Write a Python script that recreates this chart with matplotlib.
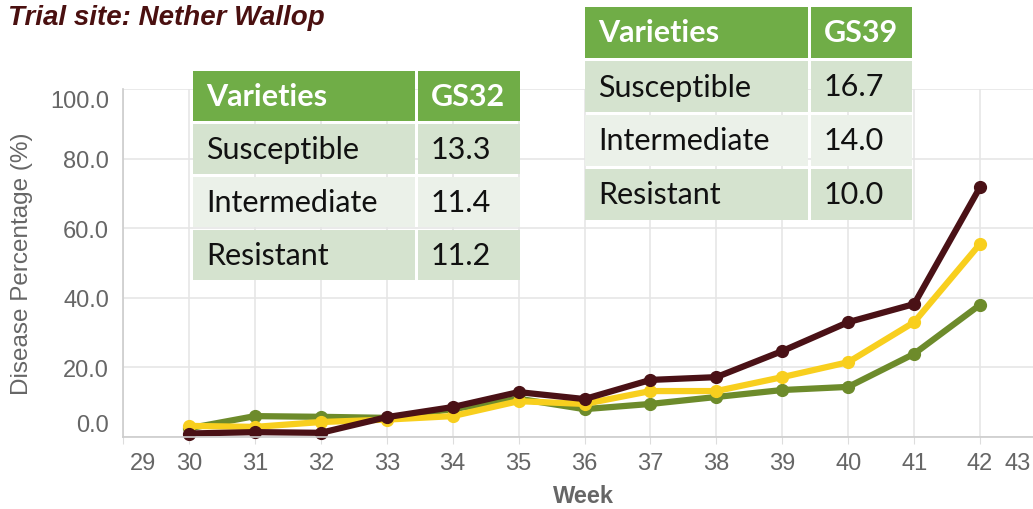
import numpy as np
import matplotlib.pyplot as plt
import matplotlib.transforms as mtransforms
from matplotlib.patches import Rectangle

# Data
weeks = [30, 31, 32, 33, 34, 35, 36, 37, 38, 39, 40, 41, 42]
resistant = [2.5, 6.0, 5.8, 5.5, 8.0, 11.0, 8.0, 9.5, 11.5, 13.5, 14.4, 23.9, 38.0]
intermediate = [3.2, 2.9, 4.3, 5.0, 6.0, 10.3, 9.5, 13.2, 13.2, 17.2, 21.5, 33.0, 55.5]
susceptible = [1.0, 1.4, 1.2, 5.7, 8.6, 12.9, 10.9, 16.4, 17.2, 24.7, 33.0, 38.2, 71.8]

x_ticks = list(range(29, 44))
y_ticks = [0, 20, 40, 60, 80, 100]

table_rows = ['Susceptible', 'Intermediate', 'Resistant']
gs32_values = ['13.3', '11.4', '11.2']
gs39_values = ['16.7', '14.0', '10.0']

W, H = 1033, 510
fig = plt.figure(figsize=(W / 100, H / 100), dpi=100)


def fx(px):
    return px / W


def fy(py):
    return 1 - py / H


# Axes: x from 29 (px 123) to 43 (px ~1046), y from 0 (px 438) to 100 (px 90)
ax = fig.add_axes([fx(123), fy(438), fx(1046) - fx(123), fy(90) - fy(438)])
ax.set_xlim(29, 43)
ax.set_ylim(0, 100)

grid_col = '#e6e6e6'
ax.set_xticks(x_ticks)
ax.set_yticks(y_ticks)
ax.grid(True, color=grid_col, linewidth=1.2)
ax.set_axisbelow(True)
for s in ['top', 'right']:
    ax.spines[s].set_visible(False)
ax.spines['left'].set_color('#cccccc')
ax.spines['bottom'].set_color('#cccccc')
ax.spines['left'].set_linewidth(1.2)
ax.spines['bottom'].set_linewidth(1.2)
ax.tick_params(axis='y', length=0, pad=10, labelsize=17, labelcolor='#666666')
ax.tick_params(axis='x', length=5, color='#dddddd', pad=6, labelsize=17,
               labelcolor='#666666')
ax.set_yticklabels(['%.1f' % v for v in y_ticks], fontfamily='Liberation Sans')
ax.set_xticklabels([str(v) for v in x_ticks], fontfamily='Liberation Sans')


def shift(label, dx_px, dy_px):
    label.set_transform(label.get_transform() +
                        mtransforms.ScaledTranslation(dx_px / 100, dy_px / 100,
                                                      fig.dpi_scale_trans))


# push edge labels inside, like the original
xl = ax.get_xticklabels()
shift(xl[0], 20, 0)
shift(xl[-1], -28, 0)
yl = ax.get_yticklabels()
shift(yl[0], 0, 14)
shift(yl[-1], 0, -10)

ax.set_xlabel('Week', fontsize=17, fontweight='bold', color='#666666',
              fontfamily='Liberation Sans')
ax.xaxis.set_label_coords((583 - 123) / (1046 - 123), -(497 - 438) / 348,)
ax.xaxis.label.set_va('center')
ax.set_ylabel('Disease Percentage (%)', fontsize=17.5, color='#666666',
              fontfamily='Liberation Sans')
ax.yaxis.set_label_coords(-(123 - 22) / (1046 - 123), (438 - 264) / 348)
ax.yaxis.label.set_va('center')

series = [
    (resistant, '#6d8b2b'),
    (intermediate, '#f8cf1e'),
    (susceptible, '#4a1116'),
]
for vals, col in series:
    ax.plot(weeks, vals, color=col, linewidth=4.5, marker='o', markersize=8.5,
            clip_on=False, solid_joinstyle='round')

fig.text(fx(8), fy(18), 'Trial site: Nether Wallop', fontsize=20,
         fontweight='bold', fontstyle='italic', color='#4a1010',
         fontfamily='Liberation Sans', va='center', ha='left')


# Tables drawn in figure pixels
def draw_table(x0, y0, col_split, x1, row_h, header, values):
    gap = 3
    header_col = '#70ad47'
    row_cols = ['#d5e3cf', '#ebf1e9', '#d5e3cf']
    rows = [('Varieties', header)] + list(zip(table_rows, values))
    for i, (a, b) in enumerate(rows):
        top = y0 + i * (row_h + gap)
        col = header_col if i == 0 else row_cols[i - 1]
        for (l, r, txt) in [(x0, col_split, a), (col_split + gap, x1, b)]:
            fig.add_artist(Rectangle((fx(l), fy(top + row_h)), fx(r) - fx(l),
                                     fy(top) - fy(top + row_h),
                                     facecolor=col, edgecolor='none',
                                     transform=fig.transFigure))
            fig.text(fx(l + 13), fy(top + row_h / 2), txt,
                     fontsize=22, fontfamily='Lato',
                     fontweight='bold' if i == 0 else 'normal',
                     color='white' if i == 0 else '#111111',
                     va='center', ha='left')


draw_table(193, 72, 415, 520, 50, 'GS32', gs32_values)
draw_table(585, 8, 808, 912, 51, 'GS39', gs39_values)

fig.savefig('out.png', dpi=100)
